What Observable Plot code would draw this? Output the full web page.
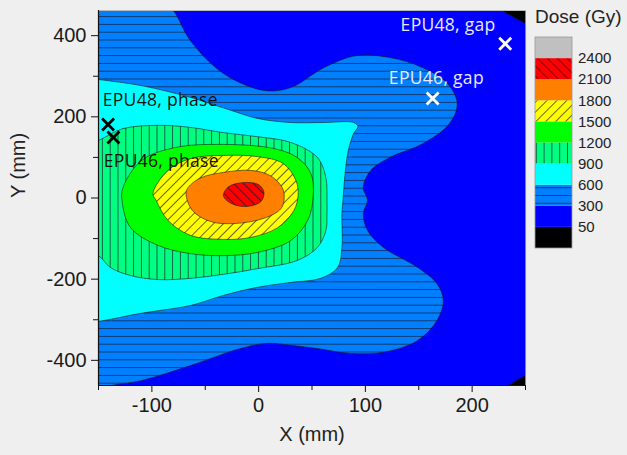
<!DOCTYPE html>
<html><head><meta charset="utf-8">
<script src="https://cdn.jsdelivr.net/npm/d3@7"></script>
<script src="https://cdn.jsdelivr.net/npm/@observablehq/plot@0.6"></script>
<style>
body{margin:0;background:#efefef;width:627px;height:455px;overflow:hidden;position:relative;font-family:"Liberation Sans",Arial,sans-serif}
#chart{position:absolute;left:0;top:0}
#legend{position:absolute;left:528px;top:0}
.annot text{letter-spacing:0.3px}
</style></head><body>
<svg width="0" height="0" style="position:absolute"><defs id="pdefs"></defs></svg>
<div id="chart"></div><div id="legend"></div>
<script>
// ---- data (mm) ----
const xTicksMajor = [-100, 0, 100, 200];
const xTicksMinor = [-150, -50, 50, 150, 250];
const yTicksMajor = [-400, -200, 0, 200, 400];
const yTicksMinor = [-300, -100, 100, 300];
const doseLevels = [50, 300, 600, 900, 1200, 1500, 1800, 2100, 2400];
// bands from <50 up to >2400
const bandColors = ["#000000", "#0000ff", "#0080ff", "#00ffff", "#00ff80", "#00ff00", "#ffff00", "#ff8000", "#ff0000", "#c0c0c0"];
const bandHatch  = [null, null, "h", null, "v", null, "f", null, "b", null];

// contour outlines (x mm, y mm)
const contour50top    = [[228,462],[250,462],[250,430]];
const contour50bottom = [[234,-462],[250,-462],[250,-437]];
const contour300 = [[-90,480],[-80,462],[-64,388],[-33,307],[5,265],[30,272],[61,321],[92,351],[123,346],[154,321],[177,282],[186,233],[179,184],[154,134],[123,100],[105,68],[98,26],[102,-6],[98,-38],[102,-80],[117,-122],[149,-171],[167,-211],[173,-252],[167,-302],[149,-351],[117,-380],[86,-383],[55,-371],[30,-363],[8,-358],[-17,-371],[-64,-413],[-110,-450],[-138,-462],[-160,-478],[-175,-478],[-175,478]];
const contour600 = [[-150,292],[-110,277],[-64,248],[-26,216],[-1,196],[30,186],[61,186],[89,186],[93,176],[89,159],[84,117],[81,60],[79,-6],[78,-38],[78,-122],[74,-171],[58,-198],[30,-208],[-1,-220],[-33,-240],[-64,-265],[-110,-284],[-150,-304],[-175,-310],[-175,300]];
const contour900 = [[-150,142],[-127,171],[-94,179],[-64,174],[-33,161],[-1,151],[30,137],[55,100],[63,50],[64,-6],[64,-38],[63,-80],[55,-122],[36,-154],[-1,-174],[-33,-188],[-64,-198],[-94,-201],[-120,-191],[-139,-171],[-150,-142],[-175,-120],[-175,120]];
const contour1200 = [[-127,26],[-110,92],[-79,124],[-33,132],[14,122],[36,100],[49,60],[51,1],[46,-55],[30,-105],[-1,-134],[-33,-142],[-64,-137],[-94,-117],[-120,-73],[-128,-6]];
const contour1500 = [[-99,11],[-85,68],[-64,97],[-33,105],[-1,102],[23,85],[35,43],[37,6],[33,-31],[18,-73],[-7,-97],[-33,-102],[-64,-92],[-85,-55],[-96,-6]];
const contour1800 = [[-66,26],[-54,50],[-33,63],[-7,68],[11,55],[22,26],[24,1],[21,-26],[5,-50],[-23,-63],[-45,-58],[-62,-31],[-68,11]];
const contour2100 = [[-33,6],[-28,28],[-14,38],[0,33],[5,14],[2,-9],[-12,-21],[-26,-13]];

const markerNames = ["EPU48, gap", "EPU46, gap", "EPU48, phase", "EPU46, phase"];
const markerX = [231, 163, -141, -136];
const markerY = [380, 245, 181, 149];
const labelX = [133, 122, -146, -145];
const labelY = [425, 294, 240, 89];
const markerColors = ["#ffffff", "#ffffff", "#000000", "#000000"];
const labelColors = ["#e8e8ff", "#e8e8ff", "#111111", "#111111"];

// ---- patterns ----
const defs = d3.select("#pdefs");
function makePattern(id, bg, kind) {
  const s = kind === "h" || kind === "v" ? 7.8 : 7;
  const p = defs.append("pattern").attr("id", id).attr("patternUnits", "userSpaceOnUse")
    .attr("width", s).attr("height", s);
  if (kind === "f") p.attr("patternTransform", "rotate(45)");
  if (kind === "b") p.attr("patternTransform", "rotate(-45)");
  p.append("rect").attr("width", s).attr("height", s).attr("fill", bg);
  const l = p.append("line").attr("stroke", "#1a1a30").attr("stroke-width", 0.8).attr("stroke-opacity", 0.85);
  if (kind === "h") l.attr("x1", 0).attr("x2", s).attr("y1", 0.5).attr("y2", 0.5);
  else l.attr("x1", 0.5).attr("x2", 0.5).attr("y1", 0).attr("y2", s);
}
const bandFill = bandColors.map((c, i) => {
  if (!bandHatch[i]) return c;
  makePattern("pat" + i, c, bandHatch[i]);
  return `url(#pat${i})`;
});

const toXY = (pts) => pts.map(([x, y]) => ({x, y}));
const region = (pts, band, curve) => Plot.line(toXY(pts), {
  x: "x", y: "y", curve, fill: bandFill[band], stroke: "#1a1a1a", strokeWidth: 0.7, strokeOpacity: 0.85, clip: true
});

const markers = markerNames.map((name, i) => ({name, x: markerX[i], y: markerY[i], c: markerColors[i], lx: labelX[i], ly: labelY[i], lc: labelColors[i]}));
const FONT = "Liberation Sans, Arial, sans-serif";
const fmt = (d) => String(d);

const chart = Plot.plot({
  width: 627, height: 455,
  marginLeft: 98, marginRight: 102, marginTop: 10, marginBottom: 70,
  x: {domain: [-150, 250], label: null},
  y: {domain: [-462, 462], label: null},
  style: {background: "transparent", fontFamily: FONT, fontSize: "20px", color: "#222"},
  marks: [
    Plot.frame({fill: bandColors[1], stroke: null}),
    region(contour300, 2, "catmull-rom-closed"),
    region(contour600, 3, "catmull-rom-closed"),
    region(contour900, 4, "catmull-rom-closed"),
    region(contour1200, 5, "catmull-rom-closed"),
    region(contour1500, 6, "catmull-rom-closed"),
    region(contour1800, 7, "catmull-rom-closed"),
    region(contour2100, 8, "catmull-rom-closed"),
    region(contour50top, 0, "linear-closed"),
    region(contour50bottom, 0, "linear-closed"),
    Plot.ruleY([462], {stroke: "#bbbbbb", strokeWidth: 1}),
    Plot.ruleX([-150], {stroke: "#111", strokeWidth: 1.2}),
    Plot.ruleY([-462], {stroke: "#111", strokeWidth: 1.2}),
    Plot.axisX(xTicksMajor, {tickSize: 7, tickPadding: 5, fontSize: 20, fontFamily: FONT, tickFormat: fmt, stroke: "#111", fill: "#1a1a1a", label: null}),
    Plot.axisX(xTicksMinor, {tickSize: 5, tickFormat: () => "", stroke: "#111", label: null}),
    Plot.axisY(yTicksMajor, {tickSize: 7, tickPadding: 5, fontSize: 20, fontFamily: FONT, tickFormat: fmt, stroke: "#111", fill: "#1a1a1a", label: null}),
    Plot.axisY(yTicksMinor, {tickSize: 5, tickFormat: () => "", stroke: "#111", label: null}),
    Plot.text(["X (mm)"], {frameAnchor: "bottom", dy: 55, fontSize: 20, fontFamily: FONT, fill: "#222"}),
    Plot.text(["Y (mm)"], {frameAnchor: "left", dx: -80, rotate: -90, fontSize: 20, fontFamily: FONT, fill: "#222"}),
    Plot.dot(markers, {x: "x", y: "y", symbol: "times", r: 5.5, stroke: "c", strokeWidth: 2.8}),
    Plot.text(markers, {x: "lx", y: "ly", text: "name", fill: "lc", textAnchor: "start", fontFamily: "Open Sans", fontSize: 17.5, className: "annot"})
  ]
});
document.getElementById("chart").appendChild(chart);

// ---- legend ----
const lw = 99, lh = 260, boxX = 7, boxW = 37, boxTop = 37, boxH = 21.1;
const lsvg = d3.select("#legend").append("svg").attr("width", lw).attr("height", lh)
  .style("font-family", FONT);
lsvg.append("text").attr("x", 7).attr("y", 23).attr("font-size", 19).attr("fill", "#222").text("Dose (Gy)");
bandFill.forEach((f, i) => {
  lsvg.append("rect").attr("x", boxX).attr("y", boxTop + (9 - i) * boxH).attr("width", boxW).attr("height", boxH)
    .attr("fill", f);
});
lsvg.append("rect").attr("x", boxX).attr("y", boxTop).attr("width", boxW).attr("height", boxH * 10)
  .attr("fill", "none").attr("stroke", "#999").attr("stroke-width", 0.8);
doseLevels.forEach((v, k) => {
  lsvg.append("text").attr("x", 50).attr("y", boxTop + (9 - k) * boxH).attr("dy", "0.35em")
    .attr("font-size", 15).attr("fill", "#222").text(v);
});
</script></body></html>
